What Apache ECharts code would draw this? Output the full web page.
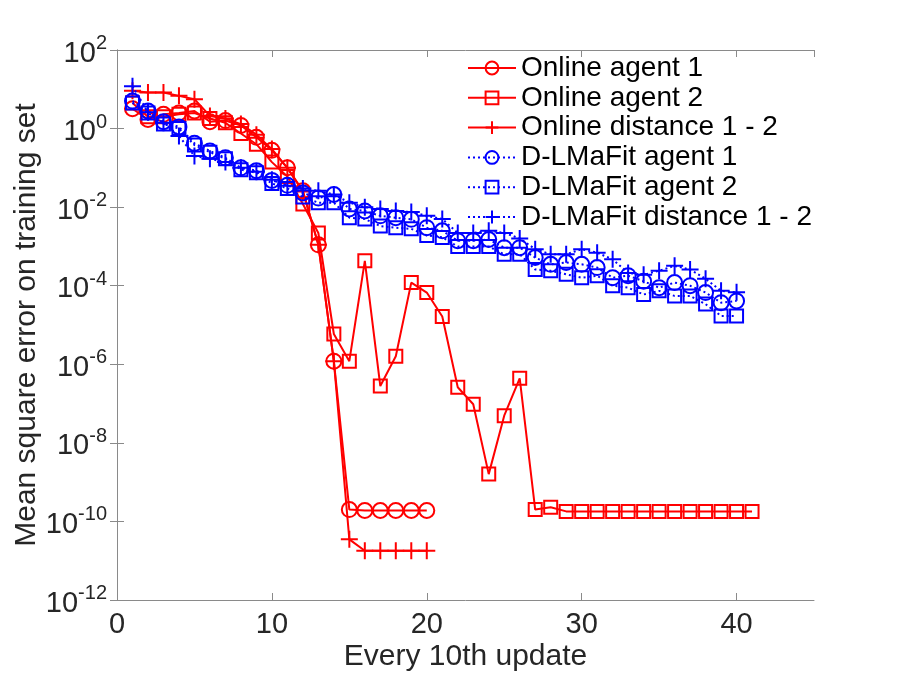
<!DOCTYPE html>
<html>
<head>
<meta charset="utf-8">
<script src="https://cdn.jsdelivr.net/npm/echarts@6/dist/echarts.min.js"></script>
<style>
html,body{margin:0;padding:0;background:#fff;}
#chart{width:900px;height:676px;}
</style>
</head>
<body>
<div id="chart"></div>
<script>
// Series names
const seriesNames = ['Online agent 1', 'Online agent 2', 'Online distance 1 - 2',
  'D-LMaFit agent 1', 'D-LMaFit agent 2', 'D-LMaFit distance 1 - 2'];

// Values at updates 1, 2, 3, ... (x = index + 1)
const online1 = [3.2, 1.7, 2.3, 2.5, 2.8, 1.5, 1.6, 1.2, 0.6, 0.28,
  0.1, 0.026, 1.1e-3, 1.2e-6, 2e-10, 1.9e-10, 1.9e-10, 1.9e-10, 1.9e-10, 1.9e-10];
const online2 = [4.5, 2.0, 2.0, 2.3, 2.5, 1.8, 1.4, 0.75, 0.4, 0.14,
  0.06, 0.012, 2.2e-3, 5.9e-6, 1.2e-6, 4.3e-4, 2.8e-7, 1.6e-6, 1.2e-4, 6.7e-5,
  1.65e-5, 2.6e-7, 9.6e-8, 1.6e-9, 4.9e-8, 4.4e-7, 2e-10, 2.3e-10, 1.8e-10, 1.8e-10,
  1.8e-10, 1.8e-10, 1.8e-10, 1.8e-10, 1.8e-10, 1.8e-10, 1.8e-10, 1.8e-10, 1.8e-10, 1.8e-10,
  1.8e-10];
const onlineDist = [9.2, 8.3, 8.3, 6.8, 5.6, 2.1, 1.8, 1.3, 0.7, 0.3,
  0.1, 0.025, 1.1e-3, 1.2e-6, 3.5e-11, 1.8e-11, 1.8e-11, 1.8e-11, 1.8e-11, 1.8e-11];
const dlm1 = [5, 2.8, 1.5, 1.1, 0.42, 0.27, 0.18, 0.1, 0.085, 0.048,
  0.036, 0.023, 0.017, 0.021, 0.009, 0.008, 0.006, 0.0054, 0.0049, 0.003,
  0.0025, 0.0014, 0.0014, 0.0015, 9.3e-4, 9.3e-4, 5.2e-4, 3.5e-4, 3.9e-4, 3.5e-4,
  2.9e-4, 1.6e-4, 1.8e-4, 1.3e-4, 8.9e-5, 1.2e-4, 1.0e-4, 6.7e-5, 3.7e-5, 4.1e-5];
const dlm2 = [4.5, 2.5, 1.3, 1.0, 0.38, 0.25, 0.17, 0.09, 0.075, 0.04,
  0.03, 0.018, 0.013, 0.013, 0.0054, 0.005, 0.0033, 0.003, 0.0028, 0.0019,
  0.0017, 0.001, 0.001, 0.001, 6.3e-4, 6.3e-4, 2.6e-4, 2.4e-4, 1.95e-4, 1.6e-4,
  1.8e-4, 1.0e-4, 8.9e-5, 6e-5, 7.4e-5, 5.5e-5, 5.5e-5, 3.4e-5, 1.7e-5, 1.7e-5];
const dlmDist = [12, 2.6, 1.4, 0.65, 0.2, 0.17, 0.14, 0.1, 0.08, 0.05,
  0.035, 0.03, 0.026, 0.021, 0.013, 0.01, 0.009, 0.008, 0.0075, 0.006,
  0.005, 0.0022, 0.0022, 0.0025, 0.0022, 0.0016, 8.5e-4, 6.3e-4, 6.3e-4, 8.5e-4,
  6.9e-4, 4.7e-4, 2.1e-4, 1.9e-4, 2.4e-4, 3.2e-4, 2.6e-4, 1.5e-4, 7.4e-5, 6.8e-5];

// Axis ranges / ticks
const xTicks = [0, 10, 20, 30, 40];
const yExpTicks = [2, 0, -2, -4, -6, -8, -10, -12];

const RED = '#ff0000', BLUE = '#0000ff';
const PLUS = 'path://M0,10L20,10M10,0L10,20';
const FONT = 'Liberation Sans, Arial, Helvetica, sans-serif';

function toXY(arr) { return arr.map((v, i) => [i + 1, v]); }

function mkSeries(name, arr, color, symbol, size, dotted) {
  return {
    name: name, type: 'line', data: toXY(arr),
    symbol: symbol, symbolSize: size, symbolKeepAspect: true,
    showAllSymbol: true,
    lineStyle: { color: color, width: 2, type: dotted ? [2, 3] : 'solid' },
    itemStyle: { color: 'none', borderColor: color, borderWidth: 2 },
    emphasis: { disabled: true },
    z: dotted ? 3 : 2
  };
}

const chart = echarts.init(document.getElementById('chart'), null, { renderer: 'canvas' });

const yLabelFmt = function (v) {
  const e = Math.round(Math.log10(v));
  return yExpTicks.indexOf(e) >= 0 ? '{b|10}{s|' + e + '}' : '';
};

const axisLineStyle = { color: '#8a8a8a', width: 1 };

chart.setOption({
  animation: false,
  backgroundColor: '#ffffff',
  grid: { left: 117, right: 86, top: 50, bottom: 76, containLabel: false, outerBoundsMode: 'none' },
  legend: {
    orient: 'vertical', left: 467, top: 54, padding: 0,
    itemWidth: 48, itemHeight: 16, itemGap: 1.8,
    textStyle: { fontSize: 28, color: '#000', fontFamily: FONT },
    data: seriesNames
  },
  xAxis: [{
    type: 'value', min: 0, max: 45, interval: 10,
    name: 'Every 10th update', nameLocation: 'middle', nameGap: 42, nameMoveOverlap: false,
    nameTextStyle: { fontSize: 30, color: '#262626', fontFamily: FONT },
    axisLine: { show: true, lineStyle: axisLineStyle },
    axisTick: { show: true, inside: true, length: 7, lineStyle: axisLineStyle },
    axisLabel: { fontSize: 29, color: '#262626', fontFamily: FONT, margin: 10, showMaxLabel: false,
      formatter: function (v) { return xTicks.indexOf(v) >= 0 ? String(v) : ''; } },
    splitLine: { show: false }
  }, {
    type: 'value', min: 0, max: 45, interval: 10, position: 'top',
    axisLine: { show: true, lineStyle: axisLineStyle },
    axisTick: { show: true, inside: true, length: 7, lineStyle: axisLineStyle },
    axisLabel: { show: false }, splitLine: { show: false }
  }],
  yAxis: [{
    type: 'log', logBase: 10, min: 1e-12, max: 1e2, interval: 2,
    name: 'Mean square error on training set', nameLocation: 'middle', nameGap: 75, nameMoveOverlap: false,
    nameTextStyle: { fontSize: 30, color: '#262626', fontFamily: FONT },
    axisLine: { show: true, lineStyle: axisLineStyle },
    axisTick: { show: true, inside: true, length: 7, lineStyle: axisLineStyle },
    axisLabel: {
      margin: 10, formatter: yLabelFmt,
      rich: {
        b: { fontSize: 29, color: '#262626', fontFamily: FONT, padding: [7, 0, 0, 0] },
        s: { fontSize: 20, color: '#262626', fontFamily: FONT, padding: [0, 0, 13, 0] }
      }
    },
    splitLine: { show: false }
  }, {
    type: 'log', logBase: 10, min: 1e-12, max: 1e2, interval: 2, position: 'right',
    axisLine: { show: true, lineStyle: axisLineStyle },
    axisTick: { show: true, inside: true, length: 7, lineStyle: axisLineStyle },
    axisLabel: { show: false }, splitLine: { show: false }
  }],
  series: [
    mkSeries(seriesNames[0], online1, RED, 'circle', 15, false),
    mkSeries(seriesNames[1], online2, RED, 'rect', 13, false),
    mkSeries(seriesNames[2], onlineDist, RED, PLUS, 17, false),
    mkSeries(seriesNames[3], dlm1, BLUE, 'circle', 15, true),
    mkSeries(seriesNames[4], dlm2, BLUE, 'rect', 13, true),
    mkSeries(seriesNames[5], dlmDist, BLUE, PLUS, 17, true)
  ]
});
</script>
</body>
</html>
